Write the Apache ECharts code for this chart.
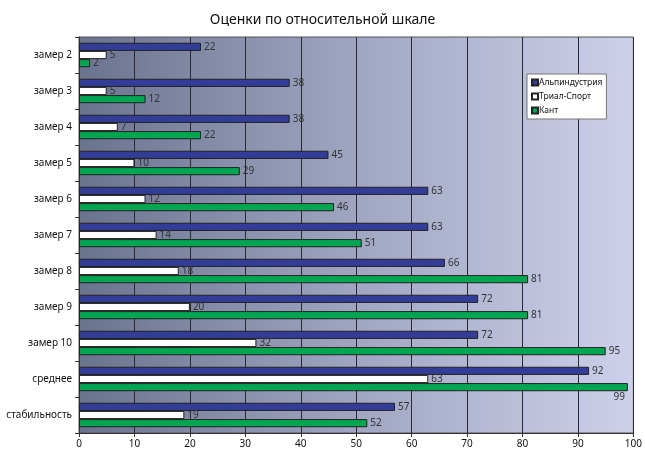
<!DOCTYPE html>
<html>
<head>
<meta charset="utf-8">
<script src="https://cdn.jsdelivr.net/npm/echarts@6/dist/echarts.min.js"></script>
<style>
  html, body { margin: 0; padding: 0; background: #fff; }
  #chart { width: 645px; height: 450px; }
</style>
</head>
<body>
<div id="chart"></div>
<script>
const categories = ['замер 2', 'замер 3', 'замер 4', 'замер 5', 'замер 6', 'замер 7', 'замер 8', 'замер 9', 'замер 10', 'среднее', 'стабильность']
const alpindustria = [22, 38, 38, 45, 63, 63, 66, 72, 72, 92, 57]
const trialSport = [5, 5, 7, 10, 12, 14, 18, 20, 32, 63, 19]
const kant = [2, 12, 22, 29, 46, 51, 81, 81, 95, 99, 52]

const font = 'Noto Sans'

const barLabel = {
  show: true,
  position: 'right',
  distance: 3,
  fontSize: 10,
  color: '#333',
  fontFamily: font
}

function makeSeries(name, values, color) {
  return {
    name: name,
    type: 'bar',
    barGap: '0%',
    barCategoryGap: '32%',
    data: values,
    itemStyle: { color: color, borderColor: '#222', borderWidth: 1 },
    label: barLabel
  }
}

// "99" sits below the bar end in the original, it doesn't fit on the right
const kantData = kant.map((v, i) => i === 9
  ? { value: v, label: { position: 'insideBottomRight', offset: [0, 14] } }
  : v)

const chart = echarts.init(document.getElementById('chart'))
chart.setOption({
  animation: false,
  title: {
    text: 'Оценки по относительной шкале',
    left: 'center',
    top: 8,
    textStyle: { fontSize: 14, fontWeight: 'normal', color: '#111', fontFamily: font }
  },
  legend: {
    orient: 'vertical',
    left: 527,
    top: 74,
    padding: [4, 4, 4, 4],
    itemGap: 5,
    itemWidth: 6,
    itemHeight: 6,
    icon: 'rect',
    backgroundColor: '#fff',
    borderColor: '#777',
    borderWidth: 1,
    borderRadius: 0,
    textStyle: { fontSize: 8.5, color: '#111', fontFamily: font, padding: [0, 0, 0, -4] },
    data: ['Альпиндустрия', 'Триал-Спорт', 'Кант']
  },
  grid: {
    left: 79,
    right: 8,
    top: 37,
    bottom: 17,
    show: true,
    borderColor: '#555',
    borderWidth: 1,
    backgroundColor: {
      type: 'linear', x: 0, y: 0, x2: 1, y2: 0,
      colorStops: [
        { offset: 0, color: '#6a738e' },
        { offset: 0.5, color: '#a0a6c2' },
        { offset: 1, color: '#cdd0ea' }
      ]
    }
  },
  xAxis: {
    type: 'value',
    min: 0,
    max: 100,
    interval: 10,
    axisLine: { show: true, lineStyle: { color: '#333' } },
    axisTick: { show: true, length: 4, lineStyle: { color: '#333' } },
    axisLabel: { fontSize: 10, color: '#111', fontFamily: font, margin: 6 },
    splitLine: { show: true, lineStyle: { color: '#2a2a2a', width: 1 } }
  },
  yAxis: {
    type: 'category',
    inverse: true,
    data: categories,
    axisLine: { show: true, lineStyle: { color: '#333' } },
    axisTick: { show: true, length: 4, lineStyle: { color: '#333' } },
    axisLabel: { fontSize: 10, color: '#111', fontFamily: font, margin: 7 }
  },
  series: [
    makeSeries('Альпиндустрия', alpindustria, '#333d98'),
    makeSeries('Триал-Спорт', trialSport, '#ffffff'),
    makeSeries('Кант', kantData, '#00a650')
  ]
})
</script>
</body>
</html>
